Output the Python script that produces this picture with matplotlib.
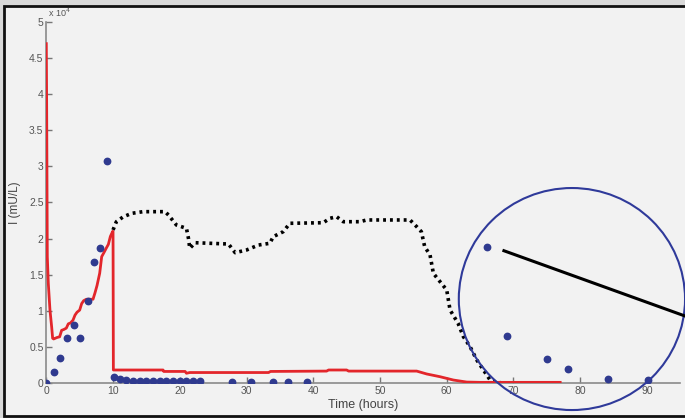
import matplotlib.pyplot as plt
from matplotlib.patches import Rectangle, Ellipse

plt.rcParams['font.family'] = ['Liberation Sans', 'DejaVu Sans']

# measured insulin (dots)
dot_t = [0, 1.15, 2.1, 3.15, 4.2, 5.1, 6.2, 7.15, 8.05, 9.15, 10.1, 11.1, 12.0,
         13, 14, 15, 16, 17, 18, 19, 20, 21, 22, 23,
         27.8, 30.6, 33.9, 36.2, 39.1, 66.1, 69.1, 75.1, 78.1, 84.1, 90.2]
dot_i = [0, 1570, 3460, 6190, 8030, 6190, 11400, 16700, 18650, 30700, 870, 550, 460,
         320, 300, 300, 300, 300, 300, 300, 330, 300, 300, 280,
         180, 180, 180, 180, 180, 18800, 6550, 3370, 1890, 600, 420]

# model curve (red)
red_t = [0, 0.05, 0.15, 0.3, 0.55, 0.8, 0.95, 1.1, 1.6, 2.0, 2.3, 2.6, 3.0, 3.3,
         3.6, 4.0, 4.3, 4.6, 5.0, 5.3, 5.6, 6.0, 7.0, 7.3, 7.6, 8.0, 8.3, 8.6,
         9.0, 9.3, 9.6, 9.95, 10.0, 10.05, 17.5, 17.6, 20.8, 21.0, 21.5, 33.3,
         33.6, 42.0, 42.3, 45.0, 45.3, 55.5, 57, 59, 61, 63, 65, 77]
red_i = [47000, 39000, 17500, 13800, 10100, 7800, 6200, 6100, 6300, 6400, 7300, 7400,
         7600, 8200, 8300, 8700, 9400, 9800, 10100, 11000, 11400, 11600, 11600,
         12500, 13500, 15200, 17500, 18000, 18700, 19200, 20300, 21000, 21000,
         1800, 1800, 1600, 1600, 1350, 1450, 1450, 1600, 1650, 1800, 1800, 1650,
         1650, 1250, 870, 410, 130, 90, 90]

# continued infusion curve (black dotted)
blk_t = [10.0, 10.5, 11.5, 12.8, 14.5, 17.8, 18.3, 19.5, 21.0, 21.3, 21.5, 22.3,
         27.3, 28.3, 30.0, 31.8, 33.5, 34.0, 35.5, 36.5, 41.5, 42.5, 43.5, 44.5,
         47.0, 48.0, 54.5, 55.5, 56.2, 56.7, 57.5, 58.0, 59.0, 60.0, 60.5, 61.7,
         62.5, 63.5, 64.5, 65.5, 66.5, 67.5, 68.4]
blk_i = [21200, 22340, 23000, 23500, 23730, 23730, 23270, 21880, 21420, 20040,
         18650, 19430, 19250, 18050, 18420, 19110, 19350, 20260, 20960, 22120,
         22200, 22810, 23030, 22340, 22340, 22580, 22580, 21650, 20960, 18880,
         17730, 15190, 14030, 12880, 10110, 8270, 6410, 5030, 3190, 1800, 420, 100, 0]

yticks = [0, 5000, 10000, 15000, 20000, 25000, 30000, 35000, 40000, 45000, 50000]
ytick_labels = ['0', '0.5', '1', '1.5', '2', '2.5', '3', '3.5', '4', '4.5', '5']
xticks = [0, 10, 20, 30, 40, 50, 60, 70, 80, 90]

fig = plt.figure(figsize=(6.85, 4.18), dpi=100, facecolor='#d9d9d9')
fig.add_artist(Rectangle((4 / 685, 2 / 418), 1.2, 410 / 418, transform=fig.transFigure,
                         facecolor='#f2f2f2', edgecolor='#111111', lw=2, zorder=-1))

ax = fig.add_axes([46.3 / 685, 35 / 418, 634 / 685, 361 / 418])
ax.set_facecolor('none')

ax.plot(blk_t, blk_i, color='black', lw=2.6, linestyle=(0, (0.8, 1.1)), zorder=2)
ax.plot(red_t, red_i, color='#e3262b', lw=2, zorder=3)
ax.plot(dot_t, dot_i, 'o', color='#2f3a8f', ms=4.6, zorder=4)

# highlighted tail of the data
ax.add_patch(Ellipse((78.76, 11630), 33.9, 30750, fill=False, edgecolor='#2f3a9a',
                     lw=1.5, clip_on=False, zorder=5))
ax.plot([68.57, 95.7], [18320, 9280], color='black', lw=2.2, clip_on=False, zorder=5)

ax.set_xlim(0, 95)
ax.set_ylim(0, 50000)
ax.set_xticks(xticks)
ax.set_yticks(yticks)
ax.set_yticklabels(ytick_labels)
for s in ['top', 'right']:
    ax.spines[s].set_visible(False)
for s in ['left', 'bottom']:
    ax.spines[s].set_color('#8a8a8a')
    ax.spines[s].set_linewidth(1.2)
ax.tick_params(direction='in', length=4, width=1, color='#777777',
               labelcolor='#555555', labelsize=7.5, pad=2)

ax.set_xlabel('Time (hours)', fontsize=9, color='#444444', labelpad=2)
ax.set_ylabel('I (mU/L)', fontsize=8.5, color='#444444', labelpad=6)
fig.text(48 / 685, 1 - 17 / 418, 'x 10$^4$', fontsize=6.5, color='#555555')

plt.savefig('out.png', dpi=100, facecolor=fig.get_facecolor())
